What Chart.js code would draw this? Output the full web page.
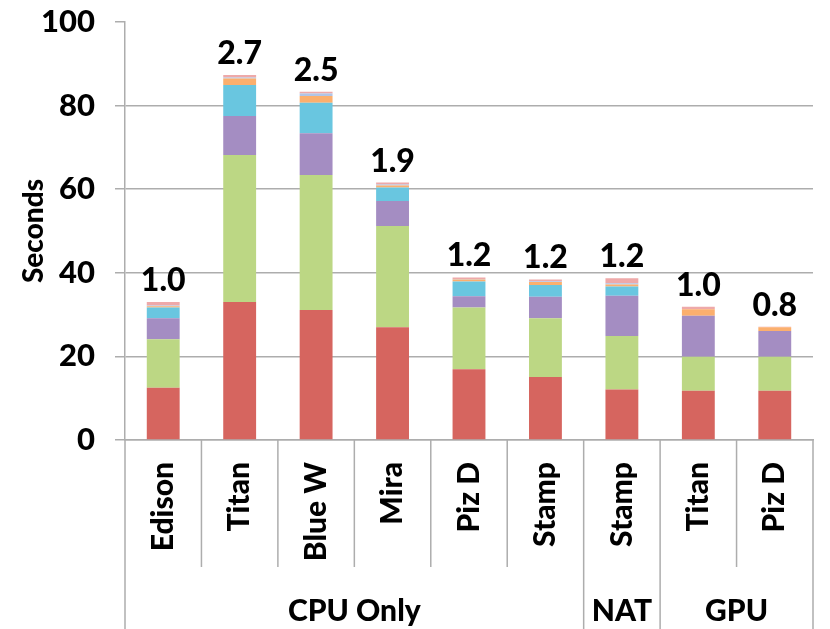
<!DOCTYPE html>
<html>
<head>
<meta charset="utf-8">
<script src="https://cdn.jsdelivr.net/npm/chart.js@4.4.0/dist/chart.umd.min.js"></script>
<style>
  body { margin: 0; background: #fff; }
  #wrap { width: 830px; height: 629px; }
</style>
</head>
<body>
<div id="wrap"><canvas id="myChart"></canvas></div>
<script>
const machines = ['Edison', 'Titan', 'Blue W', 'Mira', 'Piz D', 'Stamp', 'Stamp', 'Titan', 'Piz D'];
const groups = ['CPU Only', 'NAT', 'GPU'];
const groupSizes = [6, 1, 2];
const ratios = ['1.0', '2.7', '2.5', '1.9', '1.2', '1.2', '1.2', '1.0', '0.8'];
const yTicks = [0, 20, 40, 60, 80, 100];

const part1 = [12.5, 33.0, 31.1, 27.0, 16.9, 15.1, 12.1, 11.8, 11.8];
const part2 = [11.6, 35.2, 32.3, 24.2, 14.8, 14.0, 12.8, 8.1, 8.1];
const part3 = [5.0, 9.3, 10.0, 6.0, 2.7, 5.2, 9.6, 9.8, 6.2];
const part4 = [2.6, 7.4, 7.3, 3.2, 3.5, 2.8, 2.2, 0, 0];
const part5 = [0.3, 1.6, 1.6, 0.5, 0.5, 0.7, 0.5, 1.6, 0.9];
const part6 = [0.2, 0.2, 0.6, 0.2, 0.1, 0.2, 0.3, 0, 0];
const part7 = [0.8, 0.6, 0.4, 0.5, 0.4, 0.4, 1.2, 0.6, 0.1];

const parts = [part1, part2, part3, part4, part5, part6, part7];
const colors = ['#d6655f', '#bcd784', '#a48dc2', '#69c6e0', '#fbaf6e', '#b0c5e8', '#eea9a9'];
const gray = '#adadad';
const font = 'Lato, "Noto Sans", sans-serif';
const weight = '900';

// totals on top + multi-level axis lines and group labels
const extras = {
  id: 'extras',
  afterDatasetsDraw(chart) {
    const ctx = chart.ctx;
    const x = chart.scales.x, y = chart.scales.y;
    ctx.save();
    ctx.fillStyle = '#000';
    ctx.font = weight + ' 32px ' + font;
    ctx.textAlign = 'center';
    ctx.textBaseline = 'alphabetic';
    machines.forEach((m, i) => {
      let total = 0;
      parts.forEach(p => total += p[i]);
      ctx.fillText(ratios[i], x.getPixelForValue(i), y.getPixelForValue(total) - 11);
    });

    const step = x.getPixelForValue(1) - x.getPixelForValue(0);
    const base = y.getPixelForValue(0);
    const bottom = chart.height;
    ctx.strokeStyle = gray;
    ctx.lineWidth = 1.5;
    let idx = 0;
    const groupEnds = [0];
    groupSizes.forEach(s => { idx += s; groupEnds.push(idx); });
    for (let k = 0; k <= machines.length; k++) {
      const px = x.getPixelForValue(k) - step / 2;
      const full = groupEnds.includes(k);
      ctx.beginPath();
      ctx.moveTo(px, base);
      ctx.lineTo(px, full ? bottom : 567);
      ctx.stroke();
    }
    ctx.font = weight + ' 30px ' + font;
    groups.forEach((g, gi) => {
      const a = x.getPixelForValue(groupEnds[gi]) - step / 2;
      const b = x.getPixelForValue(groupEnds[gi + 1]) - step / 2;
      ctx.fillText(g, (a + b) / 2, 621);
    });
    ctx.restore();
  }
};

new Chart(document.getElementById('myChart'), {
  type: 'bar',
  data: {
    labels: machines,
    datasets: parts.map((p, i) => ({
      label: 'Part ' + (i + 1),
      data: p,
      backgroundColor: colors[i],
      borderWidth: 0,
      barPercentage: 0.43,
      categoryPercentage: 1
    }))
  },
  options: {
    responsive: true,
    maintainAspectRatio: false,
    animation: false,
    layout: { padding: { top: 22, right: 17, left: 0, bottom: 0 } },
    plugins: { legend: { display: false }, tooltip: { enabled: false } },
    scales: {
      x: {
        stacked: true,
        grid: { color: 'rgba(0,0,0,0)', drawTicks: false },
        border: { color: gray, width: 1.5 },
        ticks: {
          color: '#000',
          font: { family: font, size: 30, weight: weight },
          minRotation: 90,
          maxRotation: 90,
          padding: 22,
          autoSkip: false
        },
        afterFit(scale) {
          scale.height = 189;
          scale.paddingLeft = 0;
          scale.paddingRight = 0;
        }
      },
      y: {
        stacked: true,
        min: 0,
        max: 100,
        afterBuildTicks(scale) { scale.ticks = yTicks.map(v => ({ value: v })); },
        grid: {
          color: ctx => (ctx.tick && ctx.tick.value === 100) ? 'rgba(0,0,0,0)' : gray,
          tickColor: gray,
          lineWidth: 1.5,
          tickLength: 10
        },
        border: { color: gray, width: 1.5 },
        ticks: {
          color: '#000',
          font: { family: font, size: 31, weight: weight },
          padding: 20
        },
        title: {
          display: true,
          text: 'Seconds',
          color: '#000',
          font: { family: font, size: 28, weight: weight },
          padding: { top: 17, bottom: 0 }
        },
        afterFit(scale) {
          scale.width = 125;
          scale.paddingTop = 0;
          scale.paddingBottom = 0;
        }
      }
    }
  },
  plugins: [extras]
});
</script>
</body>
</html>
